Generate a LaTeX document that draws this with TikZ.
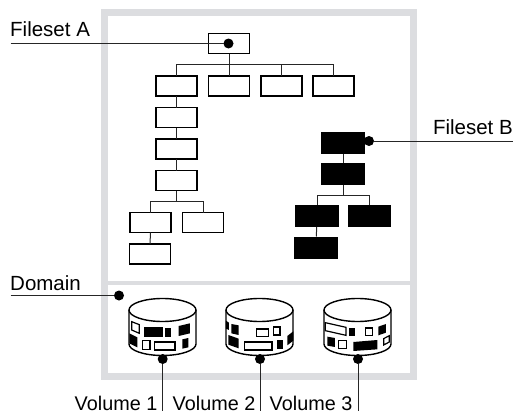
\documentclass[tikz,border=0pt]{standalone}
\usepackage{xcolor}
\usepackage{fontspec}
\setmainfont{Liberation Sans}
\usetikzlibrary{calc}
\definecolor{framegray}{HTML}{DCDDE0}
\tikzset{
  filebox/.style={draw=black, line width=1.35pt, fill=white, minimum width=41pt, minimum height=20pt, inner sep=0pt, outer sep=0pt},
  blackbox/.style={draw=none, fill=black, minimum width=43.5pt, minimum height=22pt, inner sep=0pt, outer sep=0pt},
  calloutdot/.style={circle, fill=black, minimum size=10pt, inner sep=0pt, outer sep=0pt},
  labeltext/.style={anchor=base west, inner sep=0pt, font=\fontsize{20.5}{22}\selectfont},
  vollabel/.style={anchor=base east, inner sep=0pt, font=\fontsize{19.8}{22}\selectfont},
  link/.style={draw=black!85, line width=1pt},
  wb/.style={draw=black, line width=1.2pt, fill=white},
  bb/.style={fill=black}
}
\begin{document}
\begin{tikzpicture}[x=1pt,y=-1pt]
\useasboundingbox (0,0) rectangle (515,415);

% outer frame
\draw[framegray, line width=7pt] (104.5,12.5) rectangle (413.5,376);
\draw[framegray, line width=4pt] (104.5,283) -- (413.5,283);

% fileset A
\node[filebox] (rootA) at (229,43.5) {};
\node[filebox] (dirA) at (176.5,86) {};
\node[filebox] (dirB) at (229,86) {};
\node[filebox] (dirC) at (281.5,86) {};
\node[filebox] (dirD) at (333.5,86) {};
\node[filebox] (subA) at (176.5,117.5) {};
\node[filebox] (subB) at (176.5,149) {};
\node[filebox] (subC) at (176.5,180.5) {};
\node[filebox] (leafA) at (150.5,222.5) {};
\node[filebox] (leafB) at (203,222.5) {};
\node[filebox] (leafC) at (150,254) {};

\coordinate (busA) at (229,64.5);
\draw[link] (rootA) -- (busA);
\foreach \n in {dirA,dirB,dirC,dirD}
  \draw[link] (busA) -| (\n.north);
\draw[link] (dirA) -- (subA);
\draw[link] (subA) -- (subB);
\draw[link] (subB) -- (subC);
\coordinate (busB) at (176.5,201.5);
\draw[link] (subC) -- (busB);
\draw[link] (busB) -| (leafA.north);
\draw[link] (busB) -| (leafB.north);
\draw[link] (leafA) -- (leafC);

% fileset B
\node[blackbox] (rootB) at (343,143) {};
\node[blackbox] (nextB) at (343,174) {};
\node[blackbox] (leafD) at (317,216) {};
\node[blackbox] (leafE) at (369.5,216) {};
\node[blackbox] (leafF) at (316,247.5) {};

\coordinate (busC) at (343,195);
\draw[link] (rootB) -- (nextB);
\draw[link] (nextB) -- (busC);
\draw[link] (busC) -| (leafD.north);
\draw[link] (busC) -| (leafE.north);
\draw[link] (leafD) -- (leafF);

% volumes
\foreach \c in {162.5,259.5,357.5}{
  \draw[black, line width=1.4pt, fill=white] (\c-33.5,310) -- (\c-33.5,344)
    arc[start angle=180, end angle=360, x radius=33.5, y radius=-11.5]
    -- (\c+33.5,310);
  \draw[black, line width=1.4pt, fill=white] (\c,310) ellipse [x radius=33.5, y radius=11.5];
}

\begin{scope}[shift={(100,280)}, x=0.3333pt, y=-0.3333pt]
% volume 1
\draw[wb] (95,125) -- (118,134) -- (118,160) -- (95,150) -- cycle;
\fill[bb] (132,140) rectangle (188,170);
\fill[bb] (195,145) rectangle (213,170);
\fill[bb] (236,138) -- (270,130) -- (270,160) -- (236,168) -- cycle;
\fill[bb] (88,160) -- (112,172) -- (112,202) -- (88,190) -- cycle;
\draw[wb] (127,182) rectangle (150,208);
\draw[wb] (164,186) rectangle (225,210);
\fill[bb] (247,178) -- (265,174) -- (265,202) -- (247,206) -- cycle;
% volume 2
\fill[bb] (378,122) -- (387,128) -- (387,150) -- (378,146) -- cycle;
\fill[bb] (394,132) -- (416,136) -- (416,165) -- (394,160) -- cycle;
\draw[wb] (470,147) rectangle (506,170);
\draw[wb] (520,141) rectangle (540,165);
\fill[bb] (385,165) -- (416,176) -- (416,205) -- (385,194) -- cycle;
\draw[wb] (434,186) rectangle (516,210);
\fill[bb] (532,179) rectangle (548,206);
\fill[bb] (562,168) -- (580,154) -- (580,182) -- (562,196) -- cycle;
\end{scope}

\begin{scope}[shift={(290,280)}, x=0.3333pt, y=-0.3333pt]
% volume 3
\draw[wb] (106,128) -- (168,142) -- (168,166) -- (106,152) -- cycle;
\fill[bb] (178,145) rectangle (196,168);
\draw[wb] (226,144) rectangle (248,166);
\fill[bb] (265,140) -- (288,132) -- (288,158) -- (265,166) -- cycle;
\fill[bb] (112,170) -- (135,174) -- (135,201) -- (112,197) -- cycle;
\draw[wb] (145,182) rectangle (170,206);
\fill[bb] (190,186) -- (262,180) -- (262,208) -- (190,213) -- cycle;
\draw[wb] (281,176) -- (298,167) -- (298,186) -- (281,195) -- cycle;
\end{scope}

% callouts
\node[calloutdot] (dotA) at (228.5,43.5) {};
\node[calloutdot] (dotB) at (369,141) {};
\node[calloutdot] (dotDomain) at (119,295.5) {};
\node[calloutdot] (dotVolA) at (162.7,359) {};
\node[calloutdot] (dotVolB) at (260,359) {};
\node[calloutdot] (dotVolC) at (358,359) {};

\coordinate (endA) at (10.5,43.5);
\coordinate (endB) at (513,141);
\coordinate (endDomain) at (10.5,295.5);
\coordinate (endVolA) at (162.7,411);
\coordinate (endVolB) at (260,411);
\coordinate (endVolC) at (358,411);
\draw[link] (endA) -- (dotA);
\draw[link] (dotB) -- (endB);
\draw[link] (endDomain) -- (dotDomain);
\draw[link] (dotVolA) -- (endVolA);
\draw[link] (dotVolB) -- (endVolB);
\draw[link] (dotVolC) -- (endVolC);

\node[labeltext] (labelA) at (10,37) {Fileset A};
\node[labeltext, anchor=base east] (labelB) at (513,134) {Fileset B};
\node[labeltext] (labelDomain) at (10,290) {Domain};
\node[vollabel] (labelVolA) at (157.5,410) {Volume 1};
\node[vollabel] (labelVolB) at (255.5,410) {Volume 2};
\node[vollabel] (labelVolC) at (352.5,410) {Volume 3};

\end{tikzpicture}
\end{document}
